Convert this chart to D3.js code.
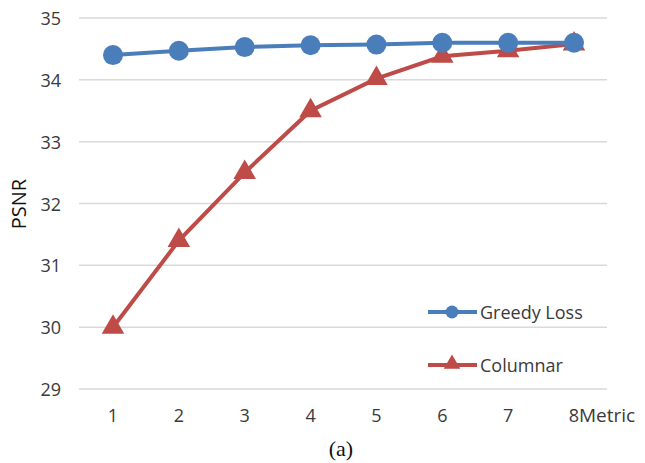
<!DOCTYPE html>
<html>
<head>
<meta charset="utf-8">
<script src="https://cdn.jsdelivr.net/npm/d3@7"></script>
<style>
  body { margin: 0; background: #fff; }
  svg { display: block; }
</style>
</head>
<body>
<div id="chart"></div>
<script>
const categories = ["1", "2", "3", "4", "5", "6", "7", "8"]
const greedy_loss = [34.4, 34.47, 34.53, 34.56, 34.57, 34.6, 34.6, 34.6]
const columnar = [30.0, 31.4, 32.5, 33.5, 34.02, 34.38, 34.47, 34.58]
const y_ticks = [29, 30, 31, 32, 33, 34, 35]

const width = 645, height = 463
const grid_left = 79, grid_right = 607, plot_top = 18, plot_bottom = 389

const font = "'Open Sans', 'Liberation Sans', sans-serif"
const blue = "#4a7ebb", red = "#be4b48"
const label_color = "#3a3a3a"

const svg = d3.select("#chart").append("svg")
    .attr("width", width)
    .attr("height", height)

const x = d3.scalePoint().domain(categories).range([113, 574])
const y = d3.scaleLinear().domain([29, 35]).range([plot_bottom, plot_top])

// gridlines
svg.append("g").selectAll("line")
    .data(y_ticks)
    .join("line")
    .attr("x1", grid_left).attr("x2", grid_right)
    .attr("y1", d => y(d)).attr("y2", d => y(d))
    .attr("stroke", "#d9d9d9")
    .attr("stroke-width", 1.5)

// y labels
svg.append("g").selectAll("text")
    .data(y_ticks)
    .join("text")
    .attr("x", 61)
    .attr("y", d => y(d))
    .attr("text-anchor", "end")
    .attr("dominant-baseline", "central")
    .attr("font-family", font)
    .attr("font-size", 18)
    .attr("fill", label_color)
    .text(d => d)

// x labels
svg.append("g").selectAll("text")
    .data(categories)
    .join("text")
    .attr("x", d => x(d))
    .attr("y", 415)
    .attr("text-anchor", "middle")
    .attr("dominant-baseline", "central")
    .attr("font-family", font)
    .attr("font-size", 18)
    .attr("fill", label_color)
    .text(d => d)

svg.append("text")
    .attr("x", x("8") + 5).attr("y", 415)
    .attr("dominant-baseline", "central")
    .attr("font-family", font)
    .attr("font-size", 19)
    .attr("fill", label_color)
    .text("Metric")

svg.append("text")
    .attr("transform", "translate(18,204) rotate(-90)")
    .attr("text-anchor", "middle")
    .attr("dominant-baseline", "central")
    .attr("font-family", font)
    .attr("font-size", 20)
    .attr("fill", "#111")
    .text("PSNR")

svg.append("text")
    .attr("x", 341).attr("y", 448)
    .attr("text-anchor", "middle")
    .attr("dominant-baseline", "central")
    .attr("font-family", "'Liberation Serif', 'DejaVu Serif', serif")
    .attr("font-size", 22)
    .attr("fill", "#111")
    .text("(a)")

const line = d3.line().x(d => x(d[0])).y(d => y(d[1]))
const tri = d3.symbol().type(d3.symbolTriangle).size(220)

// columnar series
const colData = categories.map((c, i) => [c, columnar[i]])
svg.append("path")
    .datum(colData)
    .attr("d", line)
    .attr("fill", "none")
    .attr("stroke", red)
    .attr("stroke-width", 4)
svg.append("g").selectAll("path")
    .data(colData)
    .join("path")
    .attr("d", tri)
    .attr("transform", d => `translate(${x(d[0])},${y(d[1])})`)
    .attr("fill", red)

// greedy loss series
const gData = categories.map((c, i) => [c, greedy_loss[i]])
svg.append("path")
    .datum(gData)
    .attr("d", line)
    .attr("fill", "none")
    .attr("stroke", blue)
    .attr("stroke-width", 4)
svg.append("g").selectAll("circle")
    .data(gData)
    .join("circle")
    .attr("cx", d => x(d[0]))
    .attr("cy", d => y(d[1]))
    .attr("r", 10)
    .attr("fill", blue)

// legend
const legend = [
    { name: "Greedy Loss", color: blue, ly: 312, shape: "circle" },
    { name: "Columnar", color: red, ly: 365, shape: "triangle" }
]
legend.forEach(l => {
    const g = svg.append("g")
    g.append("line")
        .attr("x1", 428).attr("x2", 477)
        .attr("y1", l.ly).attr("y2", l.ly)
        .attr("stroke", l.color)
        .attr("stroke-width", 4)
    if (l.shape === "circle") {
        g.append("circle").attr("cx", 452).attr("cy", l.ly).attr("r", 6.5).attr("fill", l.color)
    } else {
        g.append("path")
            .attr("d", d3.symbol().type(d3.symbolTriangle).size(120))
            .attr("transform", `translate(452,${l.ly - 1})`)
            .attr("fill", l.color)
    }
    g.append("text")
        .attr("x", 480).attr("y", l.ly)
        .attr("dominant-baseline", "central")
        .attr("font-family", font)
        .attr("font-size", 18)
        .attr("fill", label_color)
        .text(l.name)
})
</script>
</body>
</html>
